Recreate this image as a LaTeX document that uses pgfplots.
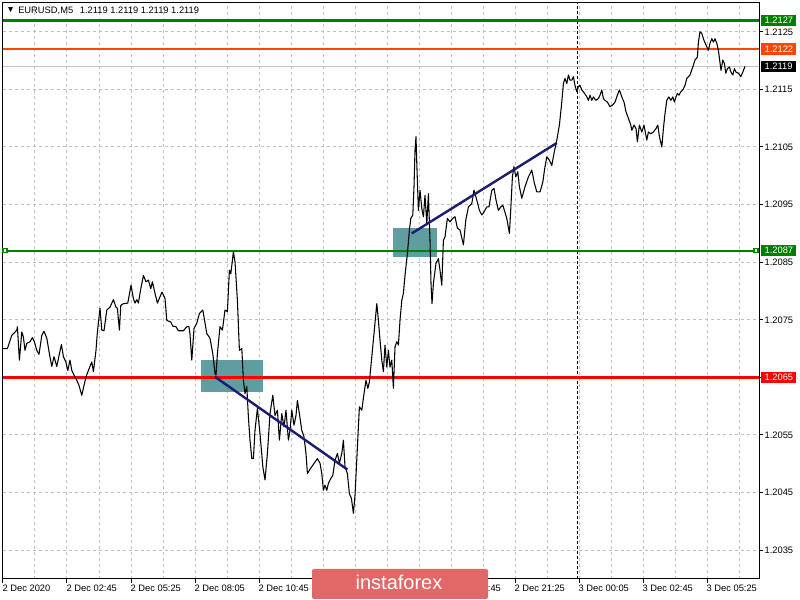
\documentclass[border=0pt]{standalone}
\usepackage{fontspec}
\setmainfont{Liberation Sans}
\usepackage{pgfplots}
\usepackage{pgfplotstable}
\pgfplotsset{compat=1.18}
\definecolor{gridgrey}{RGB}{192,192,192}
\definecolor{mtgreen}{RGB}{0,128,0}
\definecolor{mtorange}{RGB}{255,69,0}
\definecolor{mtred}{RGB}{255,0,0}
\definecolor{mtnavy}{RGB}{28,28,112}
\definecolor{mtteal}{RGB}{95,158,160}
\definecolor{logored}{RGB}{226,104,104}

\pgfplotstableread{
x y
0 1.20700
2.2 1.20700
4.4 1.20723
6.9 1.20732
7.2 1.20738
8.2 1.20680
9.4 1.20729
10.2 1.20720
11.0 1.20697
11.9 1.20709
13.5 1.20712
14.7 1.20719
15.7 1.20712
16.9 1.20697
18.0 1.20690
19.4 1.20723
20.5 1.20730
21.9 1.20718
23.2 1.20691
24.4 1.20669
25.5 1.20686
26.9 1.20669
27.9 1.20686
29.2 1.20707
30.2 1.20686
31.4 1.20677
32.4 1.20662
33.5 1.20680
34.4 1.20662
35.5 1.20654
36.9 1.20645
38.0 1.20636
39.4 1.20619
40.5 1.20636
41.5 1.20651
42.7 1.20662
44.4 1.20677
45.2 1.20660
46.5 1.20697
47.2 1.20729
48.5 1.20770
49.4 1.20732
50.5 1.20731
51.9 1.20767
53.5 1.20772
55.2 1.20785
56.5 1.20772
57.2 1.20770
58.2 1.20732
58.9 1.20775
60.2 1.20778
62.4 1.20779
64.0 1.20810
65.2 1.20787
66.0 1.20779
66.9 1.20785
67.7 1.20779
68.9 1.20804
70.2 1.20827
71.5 1.20816
72.7 1.20819
73.9 1.20804
74.7 1.20816
76.0 1.20796
77.2 1.20779
78.5 1.20790
79.5 1.20798
81.0 1.20787
81.9 1.20749
83.9 1.20746
84.9 1.20739
86.5 1.20738
87.7 1.20731
90.2 1.20731
91.9 1.20738
93.0 1.20738
93.5 1.20725
94.4 1.20680
95.5 1.20735
96.9 1.20744
98.2 1.20761
99.9 1.20767
100.5 1.20755
101.9 1.20726
103.5 1.20718
104.9 1.20691
106.0 1.20657
106.5 1.20654
107.2 1.20691
108.5 1.20738
109.7 1.20732
111.0 1.20767
112.2 1.20764
113.2 1.20836
113.9 1.20830
114.7 1.20853
115.2 1.20868
116.0 1.20851
117.2 1.20784
118.2 1.20697
119.4 1.20700
120.2 1.20645
121.0 1.20622
121.9 1.20634
122.7 1.20581
123.5 1.20541
124.4 1.20509
125.2 1.20509
126.0 1.20558
127.2 1.20596
128.5 1.20553
129.9 1.20495
131.0 1.20472
132.2 1.20518
133.5 1.20587
134.9 1.20619
136.0 1.20584
137.2 1.20593
138.2 1.20541
139.4 1.20587
140.5 1.20564
141.5 1.20593
142.7 1.20541
143.5 1.20558
144.4 1.20593
145.5 1.20567
146.5 1.20584
147.2 1.20610
148.2 1.20587
149.4 1.20558
150.5 1.20547
151.5 1.20518
152.2 1.20483
153.2 1.20489
154.4 1.20495
156.0 1.20503
157.2 1.20509
158.5 1.20501
159.4 1.20483
160.2 1.20454
161.0 1.20463
161.9 1.20454
162.7 1.20466
163.5 1.20472
164.9 1.20480
166.0 1.20506
167.2 1.20518
168.2 1.20501
169.4 1.20518
170.2 1.20541
171.0 1.20495
172.2 1.20483
173.2 1.20448
174.2 1.20440
175.2 1.20414
176.0 1.20445
177.2 1.20529
178.2 1.20599
179.4 1.20593
180.5 1.20622
181.5 1.20645
182.4 1.20631
183.2 1.20642
184.4 1.20686
185.5 1.20726
186.9 1.20778
187.7 1.20749
188.5 1.20715
189.4 1.20680
190.2 1.20660
191.0 1.20706
191.9 1.20668
192.7 1.20697
193.5 1.20668
194.4 1.20680
195.2 1.20631
196.0 1.20703
196.9 1.20712
197.7 1.20706
198.5 1.20749
199.4 1.20784
200.2 1.20796
201.0 1.20827
202.2 1.20865
203.2 1.20906
203.9 1.20926
204.9 1.20932
205.5 1.20981
206.0 1.21044
206.5 1.21068
206.9 1.21021
207.7 1.20940
208.5 1.20975
209.4 1.20943
210.2 1.20929
211.0 1.20966
211.9 1.20917
212.7 1.20969
213.5 1.20888
214.0 1.20813
214.5 1.20778
215.2 1.20813
216.5 1.20848
217.7 1.20856
218.5 1.20836
219.4 1.20810
220.2 1.20888
221.0 1.20894
222.2 1.20926
223.5 1.20920
224.9 1.20926
226.0 1.20929
227.2 1.20909
228.5 1.20906
230.2 1.20880
231.4 1.20923
232.7 1.20946
234.4 1.20952
235.5 1.20975
236.9 1.20958
238.2 1.20940
239.4 1.20932
240.5 1.20937
241.9 1.20946
243.0 1.20946
244.4 1.20975
245.5 1.20978
246.5 1.20958
247.7 1.20940
248.9 1.20946
249.9 1.20949
250.7 1.20940
251.9 1.20926
253.2 1.20900
253.9 1.20943
254.7 1.20998
255.5 1.21016
256.4 1.20998
257.4 1.21007
258.2 1.20981
259.4 1.20961
261.0 1.20981
262.7 1.20998
264.4 1.21010
265.7 1.20987
266.9 1.20972
268.5 1.20972
269.9 1.20989
271.0 1.21016
271.9 1.21033
273.2 1.21027
274.4 1.21018
275.5 1.21039
276.9 1.21062
278.2 1.21088
279.4 1.21128
280.2 1.21160
281.0 1.21169
281.9 1.21160
282.7 1.21175
283.5 1.21166
284.4 1.21166
285.2 1.21172
286.0 1.21157
286.9 1.21146
287.7 1.21155
288.5 1.21157
289.4 1.21149
290.2 1.21146
291.9 1.21137
292.7 1.21131
293.5 1.21140
294.4 1.21131
295.2 1.21137
296.4 1.21131
297.7 1.21134
298.5 1.21140
299.4 1.21149
300.2 1.21134
301.0 1.21131
302.2 1.21128
303.5 1.21120
304.9 1.21123
306.0 1.21128
307.2 1.21140
308.2 1.21149
309.4 1.21137
310.5 1.21128
311.5 1.21111
312.7 1.21100
313.9 1.21088
314.4 1.21079
315.5 1.21088
316.5 1.21082
317.2 1.21059
318.2 1.21088
319.4 1.21076
320.5 1.21088
321.9 1.21062
322.7 1.21076
323.9 1.21073
325.2 1.21076
326.5 1.21082
327.4 1.21088
328.2 1.21068
329.4 1.21050
330.2 1.21082
331.0 1.21108
331.9 1.21131
332.9 1.21137
333.9 1.21131
334.9 1.21137
335.7 1.21128
336.5 1.21137
337.2 1.21143
338.0 1.21140
338.9 1.21146
339.9 1.21149
341.0 1.21157
341.9 1.21169
343.5 1.21175
344.9 1.21189
346.0 1.21201
347.2 1.21206
347.7 1.21232
348.5 1.21250
349.4 1.21247
350.5 1.21235
351.9 1.21224
352.7 1.21218
353.5 1.21230
354.4 1.21238
355.2 1.21232
356.0 1.21238
356.9 1.21230
357.7 1.21218
358.2 1.21204
359.0 1.21183
359.9 1.21201
360.7 1.21195
361.4 1.21178
362.2 1.21186
363.2 1.21189
364.0 1.21180
364.9 1.21175
365.7 1.21186
366.5 1.21180
367.7 1.21178
368.9 1.21172
369.9 1.21180
371.0 1.21190
}\pricedata

\begin{document}
\begin{tikzpicture}[font=\fontsize{7pt}{8pt}\selectfont]
\useasboundingbox (0,0) rectangle (600pt,450pt);
\begin{axis}[
  at={(2.25pt,15.75pt)}, anchor=south west,
  scale only axis, width=567pt, height=432pt,
  xmin=0, xmax=378, ymin=1.2030, ymax=1.2130,
  clip=false,
  axis line style={black, line width=0.75pt},
  xtick={0,32,64,96,128,160,192,224,256,288,320,352},
  xticklabels={2 Dec 2020,2 Dec 02:45,2 Dec 05:25,2 Dec 08:05,2 Dec 10:45,,,2 Dec 18:45,2 Dec 21:25,3 Dec 00:05,3 Dec 02:45,3 Dec 05:25},
  minor xtick={16,48,80,112,144,176,208,240,272,304,336,368},
  ytick={1.2035,1.2045,1.2055,1.2065,1.2075,1.2085,1.2095,1.2105,1.2115,1.2125},
  yticklabels={1.2035,1.2045,1.2055,1.2065,1.2075,1.2085,1.2095,1.2105,1.2115,1.2125},
  xtick pos=bottom, ytick pos=right, yticklabel pos=right,
  tick align=outside,
  major tick length=3pt, minor tick length=0pt,
  tick style={black, line width=0.75pt},
  grid=both,
  major grid style={gridgrey, dash pattern=on 2.25pt off 2.25pt, line width=0.75pt},
  minor grid style={gridgrey, dash pattern=on 2.25pt off 2.25pt, line width=0.75pt},
  tick label style={font=\fontsize{7pt}{8pt}\selectfont, text=black},
  x tick label style={anchor=north west, inner sep=0pt, yshift=-1pt, xshift=-0.5pt},
  y tick label style={anchor=west, inner sep=0pt, xshift=1pt},
]
% zones
\addplot[fill=mtteal, draw=none] coordinates {(99,1.20625) (129.9,1.20625) (129.9,1.20680) (99,1.20680)} -- cycle;
\addplot[fill=mtteal, draw=none] coordinates {(194.9,1.20859) (216.9,1.20859) (216.9,1.20910) (194.9,1.20910)} -- cycle;
% separator
\addplot[black, line width=0.75pt, dash pattern=on 2.25pt off 1.5pt] coordinates {(287.3,1.2030) (287.3,1.2130)};
% horizontal levels
\addplot[mtgreen, line width=2.6pt] coordinates {(0,1.2127) (378,1.2127)};
\addplot[mtorange, line width=1pt] coordinates {(0,1.2122) (378,1.2122)};
\addplot[gridgrey, line width=0.75pt] coordinates {(0,1.2119) (378,1.2119)};
\addplot[mtgreen, line width=1.6pt] coordinates {(1,1.2087) (378,1.2087)};
\addplot[mtgreen, only marks, mark=square*, mark size=1.5pt, mark options={fill=white, draw=mtgreen, line width=0.8pt}] coordinates {(1,1.2087) (376.5,1.2087)};
\addplot[mtred, line width=1.8pt] coordinates {(0,1.2065) (378,1.2065)};
% price
\addplot[black, line width=0.8pt, line join=round] table[x=x, y=y] {\pricedata};
% trend lines
\addplot[mtnavy, line width=1.8pt] coordinates {(106,1.20651) (172.2,1.20490)};
\addplot[mtnavy, line width=1.8pt] coordinates {(204.4,1.20900) (276.9,1.21057)};
% price tags
\tikzset{tag/.style={anchor=west, xshift=1.5pt, text=white, inner xsep=2.5pt, inner ysep=0pt, minimum height=8.5pt, font=\fontsize{7pt}{8pt}\selectfont}}
\node[tag, fill=mtgreen] at (axis cs:378,1.2127) {1.2127};
\node[tag, fill=mtorange] at (axis cs:378,1.2122) {1.2122};
\node[tag, fill=black] at (axis cs:378,1.2119) {1.2119};
\node[tag, fill=mtgreen] at (axis cs:378,1.2087) {1.2087};
\node[tag, fill=mtred] at (axis cs:378,1.2065) {1.2065};
\end{axis}
\begin{scope}[x=0.75pt, y=-0.75pt, shift={(0pt,450pt)}]
\node[anchor=west, inner sep=0pt] at (6,10.5) {\fontsize{6.5pt}{7pt}\selectfont ▼};
\node[anchor=west, inner sep=0pt] at (18,10.5) {EURUSD,M5\hspace{5pt}1.2119 1.2119 1.2119 1.2119};
\fill[logored, rounded corners=1.5pt] (312,569) rectangle (488,599);
\node[text=white, inner sep=0pt] at (399,582) {\fontsize{15pt}{16pt}\selectfont instaforex};
\end{scope}
\end{tikzpicture}
\end{document}
